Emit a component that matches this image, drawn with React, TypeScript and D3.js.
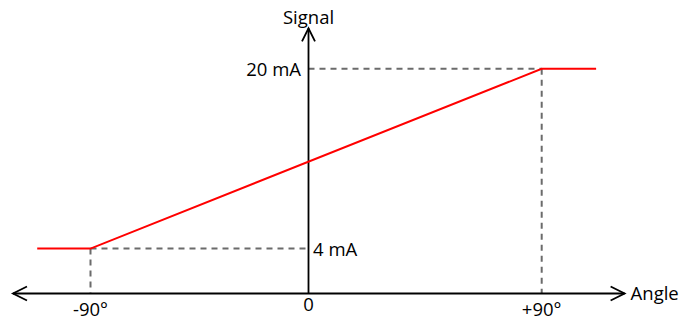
import React from "react";
import * as d3 from "d3";

// transfer curve: angle (deg) -> signal (mA)
const angles = [-112, -90, 90, 111];
const signals = [4, 4, 20, 20];

// axis reach, in data units
const angleAxis = [-122, 122];
const signalAxis = [0, 23.6];

const xTicks = [
  { value: -90, label: "-90°", dy: 316 },
  { value: 0, label: "0", dy: 311 },
  { value: 90, label: "+90°", dy: 316 },
];

const yMarks = [
  { value: 4, angle: -90, label: "4 mA" },
  { value: 20, angle: 90, label: "20 mA" },
];

const width = 697;
const height = 323;

const font = "'Open Sans', sans-serif";

export default function App() {
  // slightly uneven spacing on each side of zero, as in the source drawing
  const x = d3.scaleLinear().domain([-90, 0, 90]).range([90.5, 308.5, 541.7]);
  const y = d3.scaleLinear().domain([0, 20]).range([293.5, 68.8]);

  const line = d3
    .line<number>()
    .x((_, i) => x(angles[i]))
    .y((d) => y(d));

  const x0 = x(0);
  const y0 = y(0);
  const xl = x(angleAxis[0]);
  const xr = x(angleAxis[1]);
  const yt = y(signalAxis[1]);

  const dash = "6 5";
  const grey = "#6b6b6b";

  return (
    <svg
      width={width}
      height={height}
      style={{ position: "absolute", left: 0, top: 0, background: "#fff" }}
    >
      {/* guide lines */}
      {yMarks.map((m) => {
        const px = x(m.angle);
        const py = y(m.value);
        return (
          <g key={m.label} stroke={grey} strokeWidth={2} strokeDasharray={dash} fill="none">
            <line x1={Math.min(px, x0)} x2={Math.max(px, x0)} y1={py} y2={py} />
            <line x1={px} x2={px} y1={py} y2={y0} />
          </g>
        );
      })}

      {/* axes */}
      <g stroke="#000" strokeWidth={1.8} fill="none">
        <line x1={xl} x2={xr} y1={y0} y2={y0} />
        <line x1={x0} x2={x0} y1={y0} y2={yt} />
        <polyline points={`${xl + 14},${y0 - 7} ${xl},${y0} ${xl + 14},${y0 + 7}`} />
        <polyline points={`${xr - 14},${y0 - 7} ${xr},${y0} ${xr - 14},${y0 + 7}`} />
        <polyline points={`${x0 - 6.5},${yt + 13} ${x0},${yt} ${x0 + 6.5},${yt + 13}`} />
      </g>

      {/* curve */}
      <path d={line(signals) || ""} fill="none" stroke="#ff0000" strokeWidth={2} />

      {/* labels */}
      <g fontFamily={font} fontSize={18.5} fill="#000">
        {xTicks.map((t) => (
          <text key={t.label} x={x(t.value)} y={t.dy} textAnchor="middle">
            {t.label}
          </text>
        ))}
        <text x={x0 - 7.5} y={y(20) + 6.8} textAnchor="end">
          20 mA
        </text>
        <text x={x0 + 4.5} y={y(4) + 7.5} textAnchor="start">
          4 mA
        </text>
        <text x={x0} y={24} textAnchor="middle">
          Signal
        </text>
        <text x={xr + 6} y={y0 + 6.5} textAnchor="start">
          Angle
        </text>
      </g>
    </svg>
  );
}
